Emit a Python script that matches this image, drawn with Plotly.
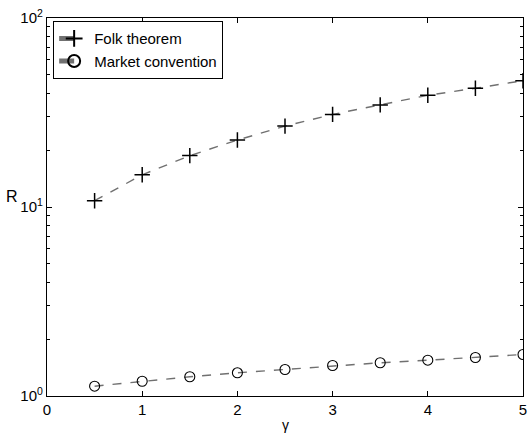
import plotly.graph_objects as go

gamma = [0.5, 1.0, 1.5, 2.0, 2.5, 3.0, 3.5, 4.0, 4.5, 5.0]
folk = [10.8, 14.8, 18.7, 22.6, 26.8, 30.9, 34.7, 39.0, 42.5, 46.6]
market = [1.127, 1.197, 1.264, 1.327, 1.381, 1.45, 1.499, 1.547, 1.598, 1.658]
ytickvals = [1, 10, 100]
yticktext = ["10<sup>0</sup>", "10<sup>1</sup>", "10<sup>2</sup>"]
yminor = [2, 3, 4, 5, 6, 7, 8, 9, 20, 30, 40, 50, 60, 70, 80, 90]
xtickvals = [0, 1, 2, 3, 4, 5]

FONT = "Liberation Sans, Arial"

fig = go.Figure()
fig.add_trace(go.Scatter(
    x=gamma, y=folk, mode="lines+markers", name="Folk theorem",
    line=dict(color="#707070", dash="dash", width=1.4),
    marker=dict(symbol="cross-thin", size=11, line=dict(color="black", width=1.5), color="black"),
))
fig.add_trace(go.Scatter(
    x=gamma, y=market, mode="lines+markers", name="Market convention",
    line=dict(color="#707070", dash="dash", width=1.4),
    marker=dict(symbol="circle-open", size=10, line=dict(color="black", width=1.1), color="black"),
))

axis_common = dict(showline=True, linecolor="black", linewidth=1.2, mirror="ticks",
                   ticks="inside", tickcolor="black", ticklen=5, showgrid=False,
                   zeroline=False, tickfont=dict(family=FONT, size=15, color="black"))
fig.update_xaxes(range=[0, 5], tickvals=xtickvals, ticklabelstandoff=0, **axis_common)
fig.update_yaxes(type="log", range=[0, 2], tickvals=ytickvals, ticktext=yticktext,
                 ticklabelstandoff=0,
                 minor=dict(tickvals=yminor, ticks="inside", ticklen=3, tickcolor="black", showgrid=False),
                 **axis_common)

fig.add_annotation(text="R", x=-0.056, y=1.058, xref="paper", yref="y", yanchor="middle",
                   xanchor="right", showarrow=False,
                   font=dict(family=FONT, size=16, color="black"))
fig.add_annotation(text="γ", x=0.5, y=-0.05, xref="paper", yref="paper", yanchor="top",
                   showarrow=False, font=dict(family=FONT, size=14, color="black"))

fig.update_layout(
    width=532, height=436, margin=dict(l=47, r=5, t=18, b=40),
    paper_bgcolor="white", plot_bgcolor="white",
    showlegend=True,
    legend=dict(x=0.0125, y=0.992, xanchor="left", yanchor="top", bordercolor="black", borderwidth=1.2,
                bgcolor="white", font=dict(family=FONT, size=15, color="black"),
                tracegroupgap=0, itemsizing="constant", itemwidth=30),
)
fig.write_html("out.html", config={"displayModeBar": False},
               post_script="document.body.style.margin='0';document.body.style.overflow='hidden';")
